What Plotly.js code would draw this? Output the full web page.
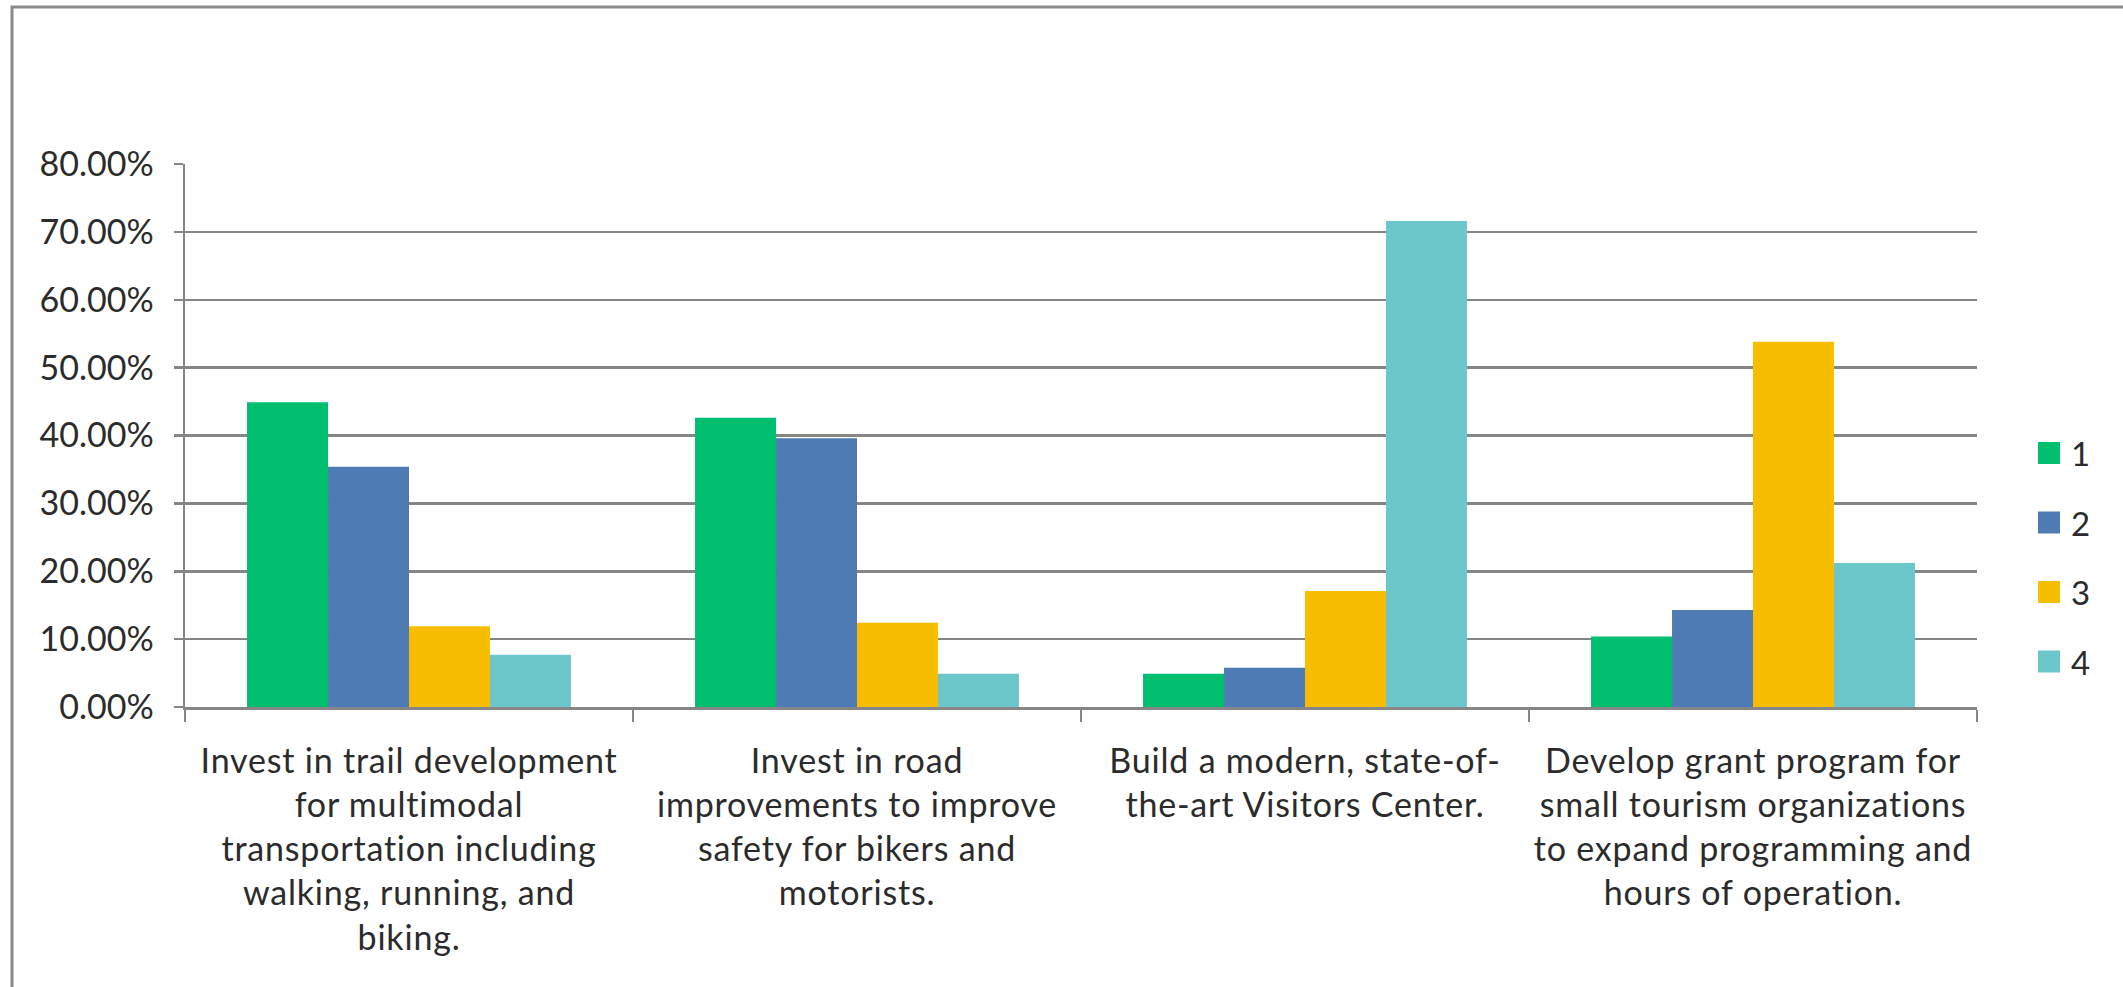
<!DOCTYPE html>
<html>
<head>
<meta charset="utf-8">
<script src="https://cdn.plot.ly/plotly-3.0.1.min.js"></script>
<style>html,body{margin:0;padding:0;background:#fff;}#chart{width:2123px;height:987px;}
#chart .xtick text{letter-spacing:0.8px;}</style>
</head>
<body>
<div id="chart"></div>
<script>
// ---- data ----
const categories = [
  "Invest in trail development<br>for multimodal<br>transportation including<br>walking, running, and<br>biking.",
  "Invest in road<br>improvements to improve<br>safety for bikers and<br>motorists.",
  "Build a modern, state-of-<br>the-art Visitors Center.",
  "Develop grant program for<br>small tourism organizations<br>to expand programming and<br>hours of operation."
];
const seriesNames = ["1", "2", "3", "4"];
const series1 = [0.449, 0.426, 0.049, 0.104];
const series2 = [0.354, 0.396, 0.058, 0.143];
const series3 = [0.119, 0.124, 0.171, 0.538];
const series4 = [0.077, 0.049, 0.716, 0.212];
const seriesColors = ["#00BF6F", "#4F7BB5", "#F7BE00", "#6CC7CA"];
const yTickValues = [0, 0.1, 0.2, 0.3, 0.4, 0.5, 0.6, 0.7, 0.8];

// ---- layout geometry ----
const W = 2123, H = 987;
const M = {l: 185, r: 146, t: 164, b: 280};
const pw = W - M.l - M.r, ph = H - M.t - M.b;
const px2x = x => (x - M.l) / pw;
const px2y = y => (H - M.b - y) / ph;
const FONT = "Lato, 'Open Sans', 'Liberation Sans', sans-serif";
const TXT = "#2b2b2b";
const GRID = "#868686";

const allSeries = [series1, series2, series3, series4];
const traces = allSeries.map((vals, i) => ({
  type: "bar",
  x: categories,
  y: vals,
  name: seriesNames[i],
  marker: {color: seriesColors[i], line: {width: 0}},
  showlegend: false,
  hoverinfo: "x+y+name"
}));

// manual legend (large square keys)
const shapes = [];
const annotations = [];
const legendY0 = 453, legendStep = 69.5;
seriesNames.forEach((n, i) => {
  const cy = legendY0 + i * legendStep;
  shapes.push({
    type: "rect", xref: "paper", yref: "paper", layer: "above",
    x0: px2x(2038), x1: px2x(2060), y0: px2y(cy + 11), y1: px2y(cy - 11),
    fillcolor: seriesColors[i], line: {width: 0}
  });
  annotations.push({
    xref: "paper", yref: "paper", x: px2x(2069), y: px2y(cy),
    xanchor: "left", yanchor: "middle", showarrow: false,
    text: n, font: {family: FONT, size: 33, color: TXT}
  });
});

// outer chart border (partly off-canvas)
shapes.push({
  type: "rect", xref: "paper", yref: "paper", layer: "below",
  x0: px2x(12), x1: px2x(W + 50), y0: px2y(H + 50), y1: px2y(7),
  line: {color: "#8a8a8a", width: 3}, fillcolor: "rgba(0,0,0,0)"
});

const layout = {
  width: W, height: H,
  margin: M,
  paper_bgcolor: "#ffffff",
  plot_bgcolor: "#ffffff",
  barmode: "group",
  bargap: 0.277,
  bargroupgap: 0,
  showlegend: false,
  font: {family: FONT, size: 34, color: TXT},
  xaxis: {
    type: "category",
    showgrid: false,
    showline: true, linecolor: GRID, linewidth: 3,
    ticks: "outside", tickson: "boundaries", ticklen: 12, tickwidth: 2, tickcolor: GRID,
    tickfont: {family: FONT, size: 34, color: TXT},
    ticklabelstandoff: 22,
    tickangle: 0,
    zeroline: false
  },
  yaxis: {
    range: [0, 0.8],
    tickvals: yTickValues,
    tickformat: ".2%",
    showgrid: true, gridcolor: GRID, gridwidth: 2.5,
    showline: true, linecolor: GRID, linewidth: 2.5,
    ticks: "outside", ticklen: 9, tickwidth: 2.5, tickcolor: GRID,
    tickfont: {family: FONT, size: 34, color: TXT},
    ticklabelstandoff: 13,
    zeroline: false
  },
  shapes: shapes,
  annotations: annotations
};

Plotly.newPlot("chart", traces, layout, {displayModeBar: false, staticPlot: true});
</script>
</body>
</html>
